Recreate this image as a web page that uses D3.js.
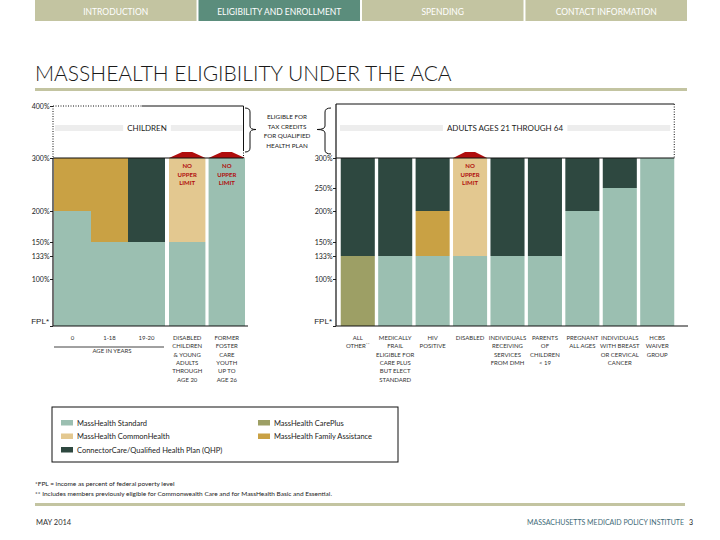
<!DOCTYPE html>
<html>
<head>
<meta charset="utf-8">
<script src="https://cdn.jsdelivr.net/npm/d3@7"></script>
<style>
body { margin: 0; background: #fff; }
svg { font-family: Lato, "Open Sans", sans-serif; }
</style>
</head>
<body>
<div id="chart"></div>
<script>
// data
var navTabs = ["INTRODUCTION", "ELIGIBILITY AND ENROLLMENT", "SPENDING", "CONTACT INFORMATION"];
var activeTab = "ELIGIBILITY AND ENROLLMENT";

var yDomain = [0, 100, 133, 150, 200, 250, 300, 400];   // % FPL (axis is not linear)
var leftTicks = [0, 100, 133, 150, 200, 300, 400];
var rightTicks = [0, 100, 133, 150, 200, 250, 300];

var ageCats = ["0", "1-18", "19-20"];
var groupCats = ["disabledKids", "foster"];
var leftSegments = {
    "0": [["standard", 200], ["family", 300]],
    "1-18": [["standard", 150], ["family", 300]],
    "19-20": [["standard", 150], ["qhp", 300]],
    "disabledKids": [["standard", 150], ["common", 300]],
    "foster": [["standard", 300]]
};
var leftLabels = {
    "0": ["0"], "1-18": ["1-18"], "19-20": ["19-20"],
    "disabledKids": ["DISABLED", "CHILDREN", "& YOUNG", "ADULTS", "THROUGH", "AGE 20"],
    "foster": ["FORMER", "FOSTER", "CARE", "YOUTH", "UP TO", "AGE 26"]
};

var rightCats = ["other", "frail", "hiv", "disabled", "dmh", "parents", "pregnant", "cancer", "hcbs"];
var rightSegments = {
    "other": [["careplus", 133], ["qhp", 300]],
    "frail": [["standard", 133], ["qhp", 300]],
    "hiv": [["standard", 133], ["family", 200], ["qhp", 300]],
    "disabled": [["standard", 133], ["common", 300]],
    "dmh": [["standard", 133], ["qhp", 300]],
    "parents": [["standard", 133], ["qhp", 300]],
    "pregnant": [["standard", 200], ["qhp", 300]],
    "cancer": [["standard", 250], ["qhp", 300]],
    "hcbs": [["standard", 300]]
};
var rightLabels = {
    "other": ["ALL", "OTHER**"],
    "frail": ["MEDICALLY", "FRAIL", "ELIGIBLE FOR", "CARE PLUS", "BUT ELECT", "STANDARD"],
    "hiv": ["HIV", "POSITIVE"],
    "disabled": ["DISABLED"],
    "dmh": ["INDIVIDUALS", "RECEIVING", "SERVICES", "FROM DMH"],
    "parents": ["PARENTS", "OF", "CHILDREN", "< 19"],
    "pregnant": ["PREGNANT", "ALL AGES"],
    "cancer": ["INDIVIDUALS", "WITH BREAST", "OR CERVICAL", "CANCER"],
    "hcbs": ["HCBS", "WAIVER", "GROUP"]
};
var noUpperLimit = ["disabledKids", "foster", "disabled"];

var programs = ["standard", "careplus", "common", "family", "qhp"];
var programNames = {
    standard: "MassHealth Standard",
    common: "MassHealth CommonHealth",
    qhp: "ConnectorCare/Qualified Health Plan (QHP)",
    careplus: "MassHealth CarePlus",
    family: "MassHealth Family Assistance"
};
var legendLeft = ["standard", "common", "qhp"];
var legendRight = ["careplus", "family"];

var color = d3.scaleOrdinal()
    .domain(programs)
    .range(["#9bbfb1", "#9d9f65", "#e3c890", "#c9a144", "#2e4840"]);

var svg = d3.select("#chart").append("svg")
    .attr("width", 720)
    .attr("height", 540);

//<------ nav + title ------>
var navX = d3.scaleBand().domain(navTabs).range([35, 687]).paddingInner(0.012);
var nav = svg.append("g").selectAll("g").data(navTabs).enter().append("g");
nav.append("rect")
    .attr("x", function(d) { return navX(d); })
    .attr("y", 0)
    .attr("width", navX.bandwidth())
    .attr("height", 21)
    .style("fill", function(d) { return d == activeTab ? "#5b8d7c" : "#c3c4a1"; });
nav.append("text")
    .attr("x", function(d) { return navX(d) + navX.bandwidth() / 2; })
    .attr("y", 14.5)
    .style("text-anchor", "middle")
    .style("font-size", "8.5px")
    .style("fill", "#fff")
    .text(function(d) { return d; });

svg.append("text")
    .attr("x", 35)
    .attr("y", 81)
    .style("font-size", "21px")
    .style("font-weight", 300)
    .style("fill", "#1a1a1a")
    .text("MASSHEALTH ELIGIBILITY UNDER THE ACA");
svg.append("rect").attr("x", 35).attr("y", 88).attr("width", 652).attr("height", 3).style("fill", "#c3c4a1");

//<------ scales ------>
var y = d3.scaleLinear().domain(yDomain).range([326, 279, 256, 242, 211, 188, 158, 106]);
var ageX = d3.scaleBand().domain(ageCats).range([54, 165]);
var groupX = d3.scaleBand().domain(groupCats).range([169, 245]).paddingInner(0.08);
var rightX = d3.scaleBand().domain(rightCats).range([337, 678]).paddingInner(0.09).paddingOuter(0.1);

function xOf(d) {
    if (ageCats.indexOf(d) >= 0) return ageX(d);
    if (groupCats.indexOf(d) >= 0) return groupX(d);
    return rightX(d);
}
function wOf(d) {
    if (ageCats.indexOf(d) >= 0) return ageX.bandwidth();
    if (groupCats.indexOf(d) >= 0) return groupX.bandwidth();
    return rightX.bandwidth();
}

function fmt(d) { return d == 0 ? "" : d + "%"; }

function drawBars(cats, segments) {
    var g = svg.append("g");
    cats.forEach(function(c) {
        var segs = segments[c].map(function(s, i) {
            return { cat: c, program: s[0], from: i == 0 ? 0 : segments[c][i - 1][1], to: s[1] };
        });
        g.selectAll(null)
            .data(segs)
            .enter().append("rect")
            .attr("x", function(d) { return xOf(d.cat); })
            .attr("width", function(d) { return wOf(d.cat); })
            .attr("y", function(d) { return y(d.to); })
            .attr("height", function(d) { return y(d.from) - y(d.to); })
            .style("fill", function(d) { return color(d.program); });
    });

    // red "no upper limit" roofs
    var open = cats.filter(function(c) { return noUpperLimit.indexOf(c) >= 0; });
    g.selectAll(null)
        .data(open)
        .enter().append("path")
        .attr("d", function(d) {
            var x0 = xOf(d), x1 = x0 + wOf(d), cx = (x0 + x1) / 2, b = y(300);
            return "M" + x0 + "," + b + "L" + (cx - 5) + "," + (b - 6) + "L" + (cx + 5) + "," + (b - 6) + "L" + x1 + "," + b + "Z";
        })
        .style("fill", "#b00d0d");
    ["NO", "UPPER", "LIMIT"].forEach(function(t, i) {
        g.selectAll(null)
            .data(open)
            .enter().append("text")
            .attr("x", function(d) { return xOf(d) + wOf(d) / 2; })
            .attr("y", y(300) + 10 + i * 8.7)
            .style("text-anchor", "middle")
            .style("font-size", "6px")
            .style("font-weight", "bold")
            .style("fill", "#b00d0d")
            .text(t);
    });
}

function drawLabels(cats, labels) {
    var g = svg.append("g");
    cats.forEach(function(c) {
        var t = g.append("text")
            .attr("x", xOf(c) + wOf(c) / 2)
            .attr("y", 340)
            .style("text-anchor", "middle")
            .style("font-size", "6px")
            .style("fill", "#333");
        labels[c].forEach(function(line, i) {
            var ts = t.append("tspan").attr("x", xOf(c) + wOf(c) / 2).attr("dy", i == 0 ? 0 : 8.3);
            if (line.indexOf("**") > 0) {
                ts.text(line.replace("**", ""));
                t.append("tspan").attr("dy", -2).style("font-size", "4.5px").text("**");
            } else {
                ts.text(line);
            }
        });
    });
}

function drawAxis(x0, ticks) {
    var ax = svg.append("g")
        .attr("transform", "translate(" + x0 + ",0)")
        .call(d3.axisLeft(y).tickValues(ticks).tickSize(3).tickFormat(fmt));
    ax.select(".domain").remove();
    ax.selectAll("text").style("font-size", "7px").style("font-family", "Lato, sans-serif").style("fill", "#222").attr("x", -3.5);
    ax.selectAll("line").style("stroke", "#222");
    ax.append("text")
        .attr("x", -4)
        .attr("y", y(0) - 2)
        .style("text-anchor", "end")
        .style("font-size", "8px")
        .style("fill", "#222")
        .text("FPL*");
}

function boxTitle(text, cx, xa, xb) {
    var g = svg.append("g");
    var t = g.append("text")
        .attr("x", cx)
        .attr("y", 131)
        .style("text-anchor", "middle")
        .style("font-size", "8px")
        .style("fill", "#222")
        .text(text);
    var bb = t.node().getBBox();
    g.insert("rect", "text").attr("x", xa).attr("y", 125).attr("width", bb.x - 4 - xa).attr("height", 6).style("fill", "#ededed");
    g.insert("rect", "text").attr("x", bb.x + bb.width + 4).attr("y", 125).attr("width", xb - (bb.x + bb.width + 4)).attr("height", 6).style("fill", "#ededed");
}

//<------ left panel: children ------>
var allLeft = ageCats.concat(groupCats);
drawBars(allLeft, leftSegments);
drawAxis(53, leftTicks);

var lx0 = 53, lx1 = groupX("foster") + groupX.bandwidth() - 1.5;
svg.append("line").attr("x1", lx0).attr("x2", lx0).attr("y1", y(300)).attr("y2", y(0)).style("stroke", "#111").style("stroke-width", 1.2);
svg.append("line").attr("x1", lx0).attr("x2", lx0).attr("y1", y(400)).attr("y2", y(300)).style("stroke", "#111").style("stroke-dasharray", "1,1.5");
svg.append("line").attr("x1", lx0).attr("x2", 142).attr("y1", y(400)).attr("y2", y(400)).style("stroke", "#111").style("stroke-dasharray", "1,1.5");
svg.append("line").attr("x1", 142).attr("x2", lx1).attr("y1", y(400)).attr("y2", y(400)).style("stroke", "#111");
svg.append("line").attr("x1", lx1).attr("x2", lx1).attr("y1", y(400)).attr("y2", y(300) - 8).style("stroke", "#111");
svg.append("line").attr("x1", lx1).attr("x2", lx1).attr("y1", y(300) - 8).attr("y2", y(300)).style("stroke", "#111").style("stroke-dasharray", "1,1.5");
svg.append("line").attr("x1", lx0).attr("x2", lx1).attr("y1", y(300)).attr("y2", y(300)).style("stroke", "#111").style("stroke-width", 1.2);
svg.append("line").attr("x1", lx0).attr("x2", 248).attr("y1", y(0)).attr("y2", y(0)).style("stroke", "#111").style("stroke-width", 1.2);

boxTitle("CHILDREN", 147, 55, lx1 - 1);

drawLabels(allLeft, leftLabels);
svg.append("line").attr("x1", 54).attr("x2", 164).attr("y1", 347).attr("y2", 347).style("stroke", "#111").style("stroke-width", 0.8);
svg.append("text").attr("x", 112).attr("y", 353).style("text-anchor", "middle").style("font-size", "6px").style("fill", "#333").text("AGE IN YEARS");

//<------ right panel: adults ------>
drawBars(rightCats, rightSegments);
drawAxis(336, rightTicks);

var rx0 = 336, rx1 = rightX("hcbs") + rightX.bandwidth();
svg.append("line").attr("x1", rx0).attr("x2", rx0).attr("y1", 104).attr("y2", y(0)).style("stroke", "#111").style("stroke-width", 1.2);
svg.append("line").attr("x1", rx0).attr("x2", rx1).attr("y1", 104).attr("y2", 104).style("stroke", "#111");
svg.append("line").attr("x1", rx1).attr("x2", rx1).attr("y1", 104).attr("y2", y(300)).style("stroke", "#111").style("stroke-dasharray", "1,1.5");
svg.append("line").attr("x1", rx0).attr("x2", rx1).attr("y1", y(300)).attr("y2", y(300)).style("stroke", "#111").style("stroke-width", 1.2);
svg.append("line").attr("x1", rx0).attr("x2", 688).attr("y1", y(0)).attr("y2", y(0)).style("stroke", "#111").style("stroke-width", 1.2);
boxTitle("ADULTS AGES 21 THROUGH 64", 505, 340, rx1 - 4);

drawLabels(rightCats, rightLabels);

//<------ braces + tax credit note ------>
svg.append("path")
    .attr("d", "M245,108 Q250,108 250,112 L250,126 Q250,129.5 256,129.5 Q250,129.5 250,133 L250,148 Q250,152 245,152")
    .style("fill", "none").style("stroke", "#111");
svg.append("path")
    .attr("d", "M331,108 Q325,108 325,112 L325,126 Q325,129.5 317,129.5 Q325,129.5 325,133 L325,150 Q325,154 331,154")
    .style("fill", "none").style("stroke", "#111");
var note = svg.append("text")
    .attr("x", 287)
    .attr("y", 119)
    .style("text-anchor", "middle")
    .style("font-size", "6.3px")
    .style("fill", "#222");
["ELIGIBLE FOR", "TAX CREDITS", "FOR QUALIFIED", "HEALTH PLAN"].forEach(function(l, i) {
    note.append("tspan").attr("x", 287).attr("dy", i == 0 ? 0 : 9.6).text(l);
});

//<------ legend ------>
svg.append("rect").attr("x", 52).attr("y", 407).attr("width", 346).attr("height", 55)
    .style("fill", "none").style("stroke", "#111");
function legendCol(keys, x) {
    var item = svg.append("g").selectAll("g").data(keys).enter().append("g")
        .attr("transform", function(d, i) { return "translate(" + x + "," + (420 + i * 13.5) + ")"; });
    item.append("rect").attr("width", 12).attr("height", 5.5).style("fill", function(d) { return color(d); });
    item.append("text").attr("x", 16).attr("y", 5.5).style("font-size", "7.5px").style("fill", "#222")
        .text(function(d) { return programNames[d]; });
}
legendCol(legendLeft, 61);
legendCol(legendRight, 258);

//<------ footer ------>
svg.append("text").attr("x", 35).attr("y", 486).style("font-size", "6.5px").style("fill", "#222")
    .text("*FPL = income as percent of federal poverty level");
svg.append("text").attr("x", 35).attr("y", 496).style("font-size", "6.5px").style("fill", "#222")
    .text("** Includes members previously eligible for Commonwealth Care and for MassHealth Basic and Essential.");
svg.append("rect").attr("x", 35).attr("y", 503).attr("width", 650).attr("height", 3).style("fill", "#c3c4a1");
svg.append("text").attr("x", 36).attr("y", 525).style("font-size", "7.5px").style("fill", "#333").text("MAY 2014");
svg.append("text").attr("x", 684).attr("y", 525).style("text-anchor", "end").style("font-size", "7px").style("fill", "#3f6b78")
    .text("MASSACHUSETTS MEDICAID POLICY INSTITUTE");
svg.append("text").attr("x", 691).attr("y", 525).style("text-anchor", "middle").style("font-size", "7px").style("fill", "#222").text("3");
</script>
</body>
</html>
